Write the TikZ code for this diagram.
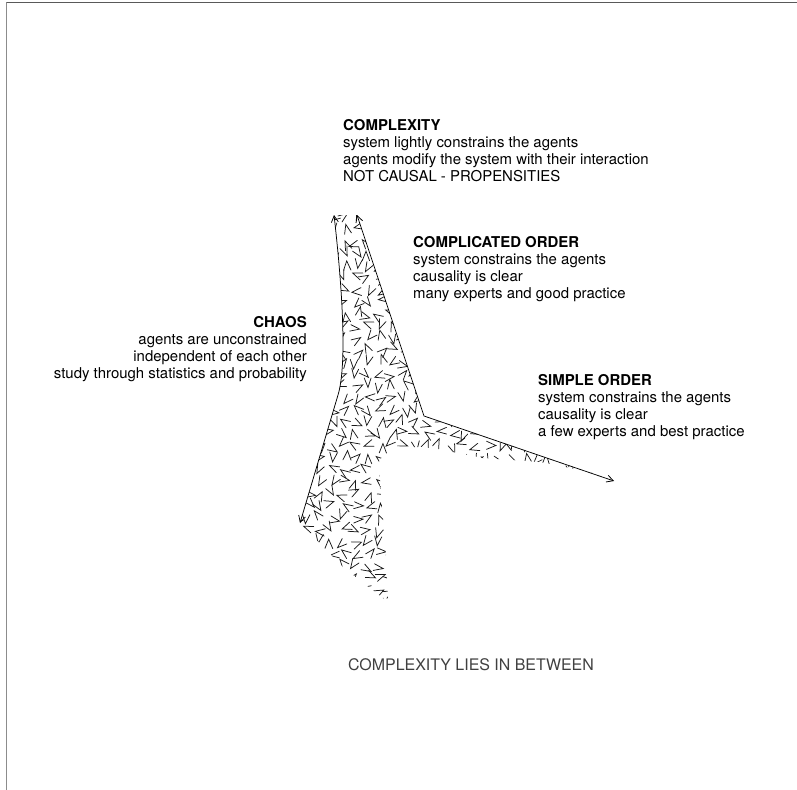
\documentclass[tikz,border=0pt]{standalone}
\usepackage{fontspec}
\setmainfont{TeX Gyre Heros}
\usetikzlibrary{arrows.meta}

\tikzset{
  zone/.style={align=left, inner sep=0pt, font=\fontsize{15}{17}\selectfont},
  chevron/.style={line width=0.75bp, black!90},
  border/.style={line width=1bp, black!65},
  flow/.style={<->, line width=0.75bp},
}

\begin{document}
\begin{tikzpicture}[x=1bp,y=-1bp,cap=round,>={Straight Barb[length=6.5bp,width=7bp]}]
    \useasboundingbox (0,0) rectangle (797,790);
    % Sheet border, top and left only
    \draw[border] (797,3) -- (6.5,3);
    \draw[border, black!45, line width=1.6bp] (6.5,3) -- (6.5,790);
    % Ends and corners of the figure
    \coordinate (complexTopL) at (334,215);
    \coordinate (complexTopR) at (357,215);
    \coordinate (leftKnee) at (338,395);
    \coordinate (chaosTip) at (300,523);
    \coordinate (junction) at (424,416);
    \coordinate (simpleTip) at (614,481);
    \coordinate (bottomTip) at (388,602);
    % Chevron texture, thinning out along the simple arm
    \pgfmathsetseed{23}
    \begin{scope}
      \clip (complexTopL) .. controls (341,276) and (348,362) .. (leftKnee) -- (chaosTip)
        -- (343,567) -- (bottomTip) -- (386,555) -- (381,495) -- (379,460) -- (395,446)
        -- (433,448) -- (483,458) -- (540,462) -- (590,472) -- (simpleTip)
        -- (junction) -- (complexTopR) -- cycle;
      \foreach \i in {0,...,27} {
        \foreach \j in {0,...,33} {
          \pgfmathsetmacro\px{296+12*\i+3.5*rand}
          \pgfmathsetmacro\py{206+12*\j+3.5*rand}
          \pgfmathsetmacro\ang{360*rnd}
          \pgfmathsetmacro\arm{2.6+1.6*rnd}
          \pgfmathtruncatemacro\keep{rnd<1.35-(\px-420)/180}
          \ifnum\keep=1
            \draw[chevron, shift={(\px,\py)}, rotate=\ang] (-3.9,-4.8) -- (0,4.6) -- (\arm,-4.8);
          \fi
        }
      }
    \end{scope}
    % The two boundary lines
    \draw[flow] (chaosTip) -- (leftKnee) .. controls (348,362) and (341,276) .. (complexTopL);
    \draw[flow] (complexTopR) -- (junction) -- (simpleTip);
    % Domain labels
    \node[zone, anchor=north west] (complexity) at (343,119.5)
      {\textbf{COMPLEXITY}\\system lightly constrains the agents\\agents modify the system with their interaction\\NOT CAUSAL - PROPENSITIES};
    \node[zone, anchor=north west] (complicated) at (413,236.5)
      {\textbf{COMPLICATED ORDER}\\system constrains the agents\\causality is clear\\many experts and good practice};
    \node[zone, align=right, anchor=north east] (chaos) at (307,316.5)
      {\textbf{CHAOS}\\agents are unconstrained\\independent of each other\\study through statistics and probability};
    \node[zone, anchor=north west] (simple) at (538,374.5)
      {\textbf{SIMPLE ORDER}\\system constrains the agents\\causality is clear\\a few experts and best practice};
    \node[font=\fontsize{16}{19}\selectfont, black!75, inner sep=0pt] (caption) at (471,665)
      {COMPLEXITY LIES IN BETWEEN};
\end{tikzpicture}
\end{document}
